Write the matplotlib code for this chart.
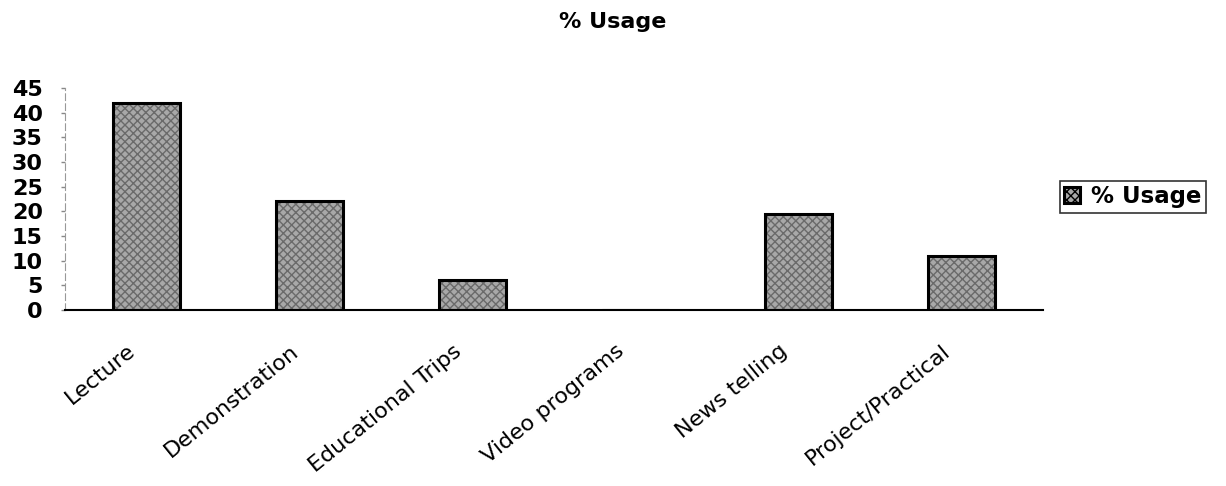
import matplotlib
matplotlib.use("Agg")
import matplotlib.pyplot as plt
import matplotlib.transforms as mtransforms
import numpy as np

plt.rcParams['font.family'] = ['DejaVu Sans']

categories = ["Lecture", "Demonstration", "Educational Trips", "Video programs",
              "News telling", "Project/Practical"]
usage = [42, 22, 6, 0, 19.5, 11]
yticks = [0, 5, 10, 15, 20, 25, 30, 35, 40, 45]

fig = plt.figure(figsize=(12.26, 4.86), dpi=100)
ax = fig.add_axes([0.053, 0.362, 0.798, 0.457])

x = np.arange(len(categories))
# textured fill, then black outline
ax.bar(x, usage, width=0.41, color='#a8a8a8', hatch='xxxx', edgecolor='#6a6a6a',
       linewidth=0, zorder=2)
ax.bar(x, usage, width=0.41, facecolor='none', edgecolor='black',
       linewidth=2.2, zorder=3, label='% Usage')

ax.set_xlim(-0.5, 5.5)
ax.set_ylim(0, 45)
ax.set_yticks(yticks)
ax.set_yticklabels([str(v) for v in yticks], fontsize=16, fontweight='bold')
ax.tick_params(axis='y', length=3, width=1, color='#888888', pad=13)

ax.set_xticks(x)
ax.set_xticklabels(categories, fontsize=16, rotation=39, ha='right',
                   rotation_mode='anchor')
ax.tick_params(axis='x', length=0, pad=22)
offset = mtransforms.ScaledTranslation(-0.2, 0, fig.dpi_scale_trans)
for lbl in ax.get_xticklabels():
    lbl.set_transform(lbl.get_transform() + offset)

for s in ['top', 'right']:
    ax.spines[s].set_visible(False)
ax.spines['left'].set_color('#999999')
ax.spines['left'].set_linestyle((0, (6, 3)))
ax.spines['bottom'].set_color('black')
ax.spines['bottom'].set_linewidth(1.5)

fig.suptitle("% Usage", x=0.5, y=0.975, fontsize=16, fontweight='bold')

leg = ax.legend(loc='center left', bbox_to_anchor=(1.005, 0.51), fontsize=16.5,
                frameon=True, fancybox=False, handlelength=0.7, handleheight=0.7,
                borderpad=0.2, handletextpad=0.45)
leg.get_frame().set_edgecolor('black')
leg.get_frame().set_linewidth(1.2)
for t in leg.get_texts():
    t.set_fontweight('bold')
h = leg.legend_handles[0]
h.set_facecolor('#a8a8a8')
h.set_hatch('xxxx')
h.set_edgecolor('black')

fig.savefig("out.png", dpi=100)
